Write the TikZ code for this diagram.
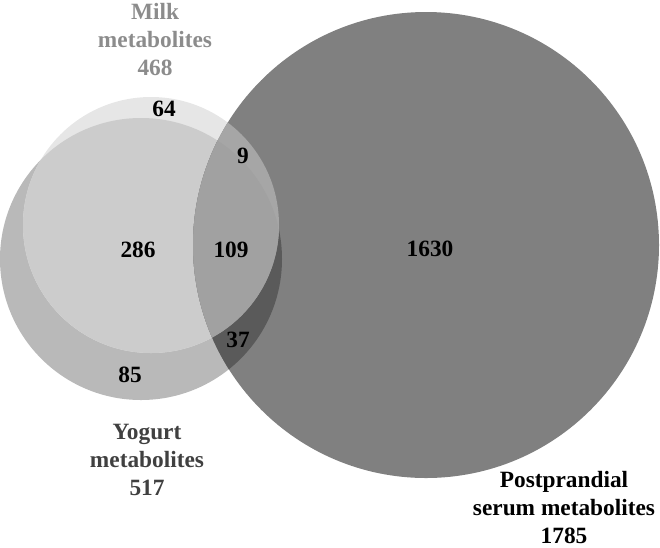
\documentclass[tikz,border=0pt]{standalone}
\usepackage{fontspec}
\setmainfont{Liberation Serif}
\usetikzlibrary{positioning}
\definecolor{MilkGray}{RGB}{230,230,230}
\definecolor{MilkYogGray}{RGB}{204,204,204}
\definecolor{YogGray}{RGB}{185,185,185}
\definecolor{SerumGray}{RGB}{128,128,128}
\definecolor{SerumYogGray}{RGB}{90,90,90}
\definecolor{SerumMilkGray}{RGB}{166,166,166}
\definecolor{AllGray}{RGB}{161,161,161}
\definecolor{MilkText}{RGB}{140,140,140}
\definecolor{YogText}{RGB}{64,64,64}
\newcommand{\milkdisc}{(151,225) circle (128)}
\newcommand{\yogdisc}{(141,259) circle (141)}
\newcommand{\serumdisc}{(426,245) circle (233)}

\begin{document}
\begin{tikzpicture}[x=0.75pt,y=-0.75pt,
  count/.style={font=\fontsize{17.5}{21}\selectfont\bfseries},
  setlabel/.style={align=center,font=\fontsize{17.5}{21}\selectfont\bfseries}]
  \useasboundingbox (0,0) rectangle (660,547);
  % discs
  \fill[YogGray] \yogdisc;
  \fill[MilkGray] \milkdisc;
  \begin{scope}
    \clip \yogdisc;
    \fill[MilkYogGray] \milkdisc;
  \end{scope}
  \fill[SerumGray] \serumdisc;
  \begin{scope}
    \clip \serumdisc;
    \fill[SerumYogGray] \yogdisc;
    \fill[SerumMilkGray] \milkdisc;
    \clip \yogdisc;
    \fill[AllGray] \milkdisc;
  \end{scope}
  % counts
  \node[count] (milkonly) at (164,109) {64};
  \node[count] (milkserum) at (243,156) {9};
  \node[count] (milkyog) at (138,250) {286};
  \node[count] (allthree) at (231,250) {109};
  \node[count] (serumonly) at (430,249) {1630};
  \node[count] (yogserum) at (238,340) {37};
  \node[count] (yogonly) at (130,375) {85};
  % set names
  \node[setlabel,MilkText] (milk) at (155,40) {Milk\\metabolites\\468};
  \node[setlabel,YogText] (yogurt) at (147,460) {Yogurt\\metabolites\\517};
  \node[setlabel] (serum) at (564,508) {Postprandial\\serum metabolites\\1785};
\end{tikzpicture}
\end{document}
